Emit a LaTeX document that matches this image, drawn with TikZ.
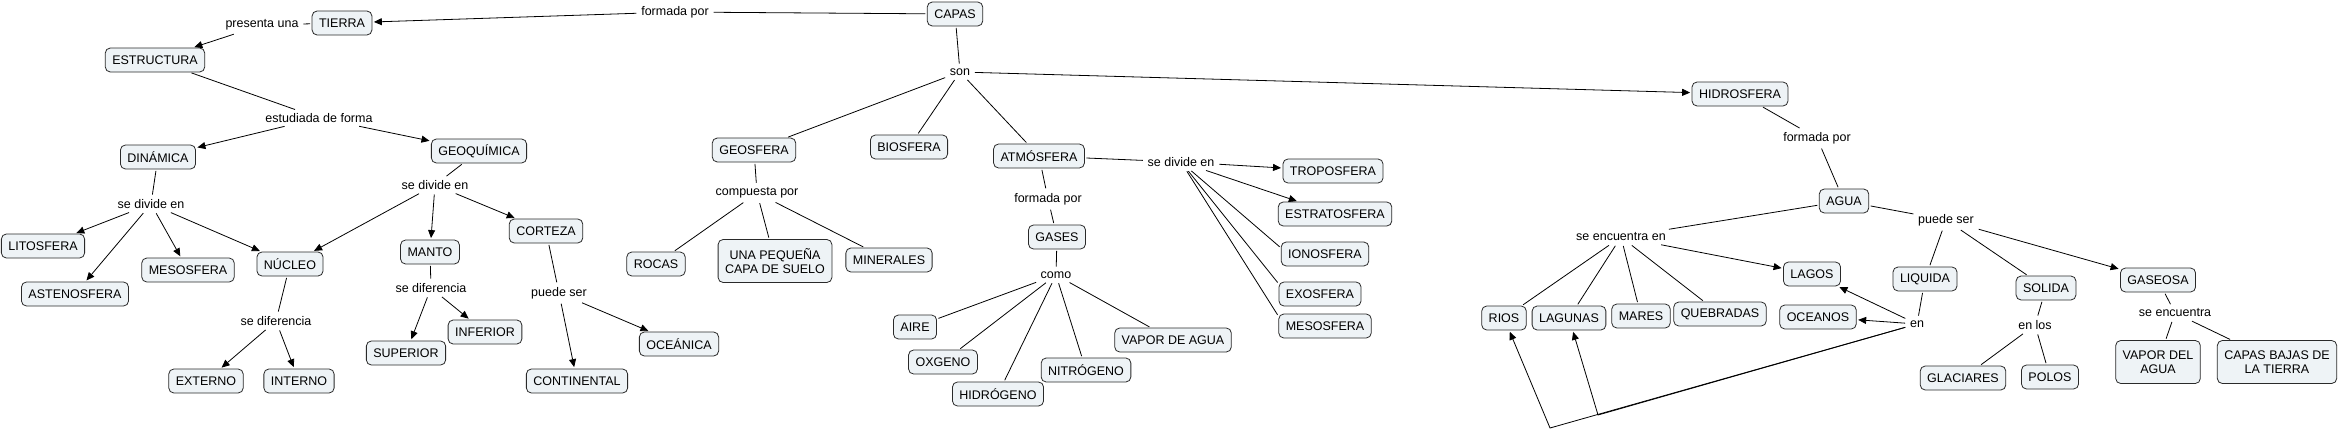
\documentclass[tikz,border=0pt]{standalone}
\usepackage{fontspec}
\setmainfont{Liberation Sans}
\usetikzlibrary{arrows.meta}
\definecolor{conceptfill}{HTML}{EEF3F6}
\definecolor{conceptline}{HTML}{2A2A2A}
\begin{document}
\begin{tikzpicture}[x=1pt,y=-1pt,
        concept/.style={draw=conceptline,fill=conceptfill,rounded corners=5pt,line width=0.8pt,
            inner xsep=7pt,inner ysep=3pt,minimum height=24pt,align=center,
            font=\fontsize{12.5}{14.5}\selectfont},
        twoline/.style={concept,minimum height=43pt},
        phrase/.style={inner sep=3pt,font=\fontsize{12.5}{14.5}\selectfont},
        >={Triangle[length=8pt,width=7pt]},
        shorten >=1.5pt,shorten <=1.5pt,
        line width=0.8pt]
            \useasboundingbox (0,0) rectangle (2340,431);
            \node[concept] (TIE) at (342,23){TIERRA};
            \node[concept] (CAP) at (955,14){CAPAS};
            \node[phrase] (p1) at (675,12){formada por};
            \node[phrase] (p2) at (262,25){presenta una};
            \node[concept] (EST) at (155,60){ESTRUCTURA};
            \node[phrase] (p3) at (319,118){estudiada de forma};
            \node[concept] (DIN) at (158,157){DINÁMICA};
            \node[concept] (GEQ) at (479,151){GEOQUÍMICA};
            \node[phrase] (p4) at (151,204){se divide en};
            \node[phrase] (p5) at (435,185){se divide en};
            \node[concept] (LIT) at (43,246){LITOSFERA};
            \node[concept] (AST) at (75,294){ASTENOSFERA};
            \node[concept] (MES) at (188,270){MESOSFERA};
            \node[concept] (NUC) at (290,264){NÚCLEO};
            \node[concept] (MAN) at (430,252){MANTO};
            \node[concept] (COR) at (546,231){CORTEZA};
            \node[phrase] (p6) at (276,321){se diferencia};
            \node[concept] (EXT) at (206,381){EXTERNO};
            \node[concept] (INT) at (299,381){INTERNO};
            \node[phrase] (p7) at (431,288){se diferencia};
            \node[concept] (SUP) at (406,353){SUPERIOR};
            \node[concept] (INF) at (485,332){INFERIOR};
            \node[phrase] (p8) at (559,293){puede ser};
            \node[concept] (CON) at (577,381){CONTINENTAL};
            \node[concept] (OCE) at (679,344){OCEÁNICA};
            \node[phrase] (p9) at (960,72){son};
            \node[concept] (GEO) at (754,150){GEOSFERA};
            \node[concept] (BIO) at (909,147){BIOSFERA};
            \node[concept] (ATM) at (1039,156){ATMÓSFERA};
            \node[concept] (HID) at (1740,94){HIDROSFERA};
            \node[phrase] (p10) at (757,193){compuesta por};
            \node[concept] (ROC) at (656,264){ROCAS};
            \node[twoline] (SUE) at (775,261){UNA PEQUEÑA\\CAPA DE SUELO};
            \node[concept] (MIN) at (889,260){MINERALES};
            \node[phrase] (p11) at (1048,199){formada por};
            \node[concept] (GAS) at (1057,237){GASES};
            \node[phrase] (p12) at (1056,275){como};
            \node[concept] (AIR) at (915,327){AIRE};
            \node[concept] (OXG) at (943,362){OXGENO};
            \node[concept] (HDG) at (998,394){HIDRÓGENO};
            \node[concept] (NIT) at (1086,370){NITRÓGENO};
            \node[concept] (VAP) at (1173,340){VAPOR DE AGUA};
            \node[phrase] (p13) at (1181,162){se divide en};
            \node[concept] (TRO) at (1333,171){TROPOSFERA};
            \node[concept] (ETR) at (1335,214){ESTRATOSFERA};
            \node[concept] (ION) at (1325,254){IONOSFERA};
            \node[concept] (EXO) at (1320,294){EXOSFERA};
            \node[concept] (MSF) at (1325,326){MESOSFERA};
            \node[phrase] (p14) at (1817,138){formada por};
            \node[concept] (AGU) at (1844,201){AGUA};
            \node[phrase] (p15) at (1621,237){se encuentra en};
            \node[concept] (LAG) at (1812,274){LAGOS};
            \node[concept] (RIO) at (1504,318){RIOS};
            \node[concept] (LGN) at (1569,318){LAGUNAS};
            \node[concept] (MAR) at (1641,316){MARES};
            \node[concept] (QUE) at (1720,314){QUEBRADAS};
            \node[concept] (OCN) at (1818,317){OCEANOS};
            \node[phrase] (p16) at (1946,220){puede ser};
            \node[concept] (LIQ) at (1925,279){LIQUIDA};
            \node[concept] (SOL) at (2046,288){SOLIDA};
            \node[concept] (GSA) at (2158,280){GASEOSA};
            \node[phrase] (p17) at (1917,324){en};
            \node[phrase] (p18) at (2035,325){en los};
            \node[concept] (GLA) at (1963,378){GLACIARES};
            \node[concept] (POL) at (2050,377){POLOS};
            \node[phrase] (p19) at (2175,313){se encuentra};
            \node[twoline] (VDA) at (2158,362){VAPOR DEL\\AGUA};
            \node[twoline] (CBT) at (2277,362){CAPAS BAJAS DE\\LA TIERRA};
            \coordinate (k1) at (1550,428);
            \coordinate (k2) at (1598,415);
            \draw (CAP) -- (p1);
            \draw[->] (p1) -- (TIE);
            \draw (TIE) -- (p2);
            \draw[->] (p2) -- (EST);
            \draw (EST) -- (p3);
            \draw[->] (p3) -- (DIN);
            \draw[->] (p3) -- (GEQ);
            \draw (DIN) -- (p4);
            \draw[->] (p4) -- (LIT);
            \draw[->] (p4) -- (AST);
            \draw[->] (p4) -- (MES);
            \draw[->] (p4) -- (NUC);
            \draw (GEQ) -- (p5);
            \draw[->] (p5) -- (NUC);
            \draw[->] (p5) -- (MAN);
            \draw[->] (p5) -- (COR);
            \draw (NUC) -- (p6);
            \draw[->] (p6) -- (EXT);
            \draw[->] (p6) -- (INT);
            \draw (MAN) -- (p7);
            \draw[->] (p7) -- (SUP);
            \draw[->] (p7) -- (INF);
            \draw (COR) -- (p8);
            \draw[->] (p8) -- (CON);
            \draw[->] (p8) -- (OCE);
            \draw (CAP) -- (p9);
            \draw (p9) -- (GEO);
            \draw (p9) -- (BIO);
            \draw (p9) -- (ATM);
            \draw[->] (p9) -- (HID);
            \draw (GEO) -- (p10);
            \draw (p10) -- (ROC);
            \draw (p10) -- (SUE);
            \draw (p10) -- (MIN);
            \draw (ATM) -- (p11);
            \draw (p11) -- (GAS);
            \draw (GAS) -- (p12);
            \draw (p12) -- (AIR);
            \draw (p12) -- (OXG);
            \draw (p12) -- (HDG);
            \draw (p12) -- (NIT);
            \draw (p12) -- (VAP);
            \draw (ATM) -- (p13);
            \draw[->] (p13) -- (TRO);
            \draw[->] (p13) -- (ETR);
            \draw (p13) -- (ION.172);
            \draw (p13) -- (EXO.166);
            \draw (p13) -- (MSF.168);
            \draw (HID) -- (p14);
            \draw (p14) -- (AGU);
            \draw (AGU) -- (p15);
            \draw (p15) -- (RIO);
            \draw (p15) -- (LGN);
            \draw (p15) -- (MAR);
            \draw (p15) -- (QUE);
            \draw[->] (p15) -- (LAG);
            \draw (AGU) -- (p16);
            \draw (p16) -- (LIQ);
            \draw (p16) -- (SOL);
            \draw[->] (p16) -- (GSA);
            \draw (LIQ) -- (p17);
            \draw[->] (p17) -- (LAG);
            \draw[->] (p17) -- (OCN);
            \draw[->] (p17) -- (k1) -- (RIO);
            \draw[->] (p17) -- (k2) -- (LGN);
            \draw (SOL) -- (p18);
            \draw (p18) -- (GLA);
            \draw (p18) -- (POL);
            \draw (GSA) -- (p19);
            \draw (p19) -- (VDA);
            \draw (p19) -- (CBT);
        \end{tikzpicture}
\end{document}
